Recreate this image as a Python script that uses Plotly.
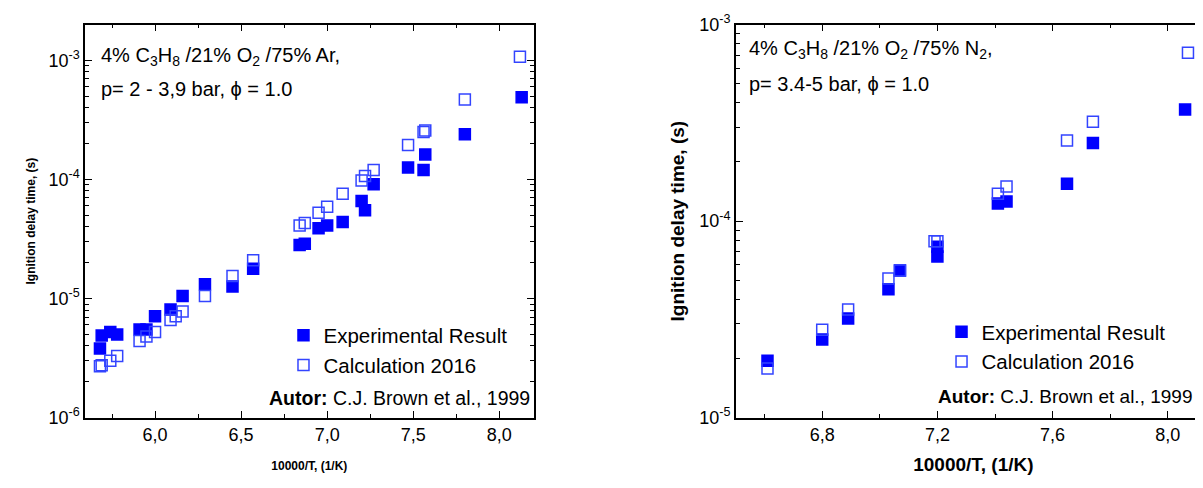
import plotly.graph_objects as go

# Left panel: Ar dilution
ar_x_exp = [5.68, 5.69, 5.74, 5.78, 5.91, 5.95, 6.00, 6.09, 6.16, 6.29, 6.45, 6.57, 6.84, 6.87, 6.95, 7.00, 7.09, 7.20, 7.22, 7.27, 7.47, 7.56, 7.57, 7.80, 8.13]
ar_y_exp = [3.8e-6, 4.9e-6, 5.25e-6, 5.0e-6, 5.5e-6, 5.5e-6, 7.1e-6, 8.1e-6, 1.05e-5, 1.32e-5, 1.26e-5, 1.78e-5, 2.82e-5, 2.88e-5, 3.9e-5, 4.1e-5, 4.4e-5, 6.6e-5, 5.5e-5, 9.1e-5, 1.26e-4, 1.2e-4, 1.62e-4, 2.4e-4, 4.9e-4]
ar_x_calc = [5.68, 5.69, 5.74, 5.78, 5.91, 5.95, 6.00, 6.09, 6.12, 6.16, 6.29, 6.45, 6.57, 6.84, 6.87, 6.95, 7.00, 7.09, 7.20, 7.22, 7.27, 7.47, 7.56, 7.57, 7.80, 8.12]
ar_y_calc = [2.7e-6, 2.75e-6, 3.0e-6, 3.3e-6, 4.4e-6, 4.8e-6, 5.25e-6, 6.6e-6, 7.1e-6, 7.8e-6, 1.05e-5, 1.55e-5, 2.1e-5, 4.1e-5, 4.3e-5, 5.25e-5, 5.9e-5, 7.6e-5, 9.8e-5, 1.07e-4, 1.2e-4, 1.95e-4, 2.5e-4, 2.57e-4, 4.7e-4, 1.07e-3]

# Right panel: N2 dilution
n2_x_exp = [6.61, 6.80, 6.89, 7.03, 7.07, 7.20, 7.20, 7.41, 7.44, 7.65, 7.74, 8.06]
n2_y_exp = [1.95e-5, 2.5e-5, 3.2e-5, 4.5e-5, 5.6e-5, 6.6e-5, 7.4e-5, 1.23e-4, 1.26e-4, 1.55e-4, 2.5e-4, 3.7e-4]
n2_x_calc = [6.61, 6.80, 6.89, 7.03, 7.07, 7.19, 7.20, 7.41, 7.44, 7.65, 7.74, 8.07]
n2_y_calc = [1.78e-5, 2.8e-5, 3.55e-5, 5.1e-5, 5.6e-5, 7.9e-5, 7.9e-5, 1.38e-4, 1.5e-4, 2.57e-4, 3.2e-4, 7.2e-4]

left_xticks = [6.0, 6.5, 7.0, 7.5, 8.0]
left_xlabels = ["6,0", "6,5", "7,0", "7,5", "8,0"]
right_xticks = [6.8, 7.2, 7.6, 8.0]
right_xlabels = ["6,8", "7,2", "7,6", "8,0"]
left_yticks = [1e-6, 1e-5, 1e-4, 1e-3]
left_ylabels = ["10<sup>-6</sup>", "10<sup>-5</sup>", "10<sup>-4</sup>", "10<sup>-3</sup>"]
right_yticks = [1e-5, 1e-4, 1e-3]
right_ylabels = ["10<sup>-5</sup>", "10<sup>-4</sup>", "10<sup>-3</sup>"]
minor_mult = [2, 3, 4, 5, 6, 7, 8, 9]
left_minor = [m * d for d in [1e-6, 1e-5, 1e-4, 1e-3] for m in minor_mult]
right_minor = [m * d for d in [1e-5, 1e-4] for m in minor_mult]

BLUE = "#0000ff"
FONT = "Liberation Sans, Arial, sans-serif"
fig = go.Figure()

def add(x, y, filled, name, xa, ya, leg):
    fig.add_trace(go.Scatter(
        x=x, y=y, mode="markers", name=name, xaxis=xa, yaxis=ya, legend=leg,
        marker=dict(symbol="square" if filled else "square-open", size=11,
                    color=BLUE if filled else "#3344ff",
                    line=dict(width=1.5, color=BLUE if filled else "#3344ff"))))

add(ar_x_exp, ar_y_exp, True, "Experimental Result", "x", "y", "legend")
add(ar_x_calc, ar_y_calc, False, "Calculation 2016", "x", "y", "legend")
add(n2_x_exp, n2_y_exp, True, "Experimental Result", "x2", "y2", "legend2")
add(n2_x_calc, n2_y_calc, False, "Calculation 2016", "x2", "y2", "legend2")

ax_common = dict(showline=True, linecolor="black", linewidth=1.5, mirror="ticks", automargin=False,
                 ticks="inside", ticklen=7, tickwidth=1.2, tickcolor="black",
                 showgrid=False, zeroline=False, tickfont=dict(size=18, family=FONT, color="black"))

fig.update_layout(
    width=1203, height=488, margin=dict(l=0, r=0, t=0, b=0),
    paper_bgcolor="white", plot_bgcolor="white", font=dict(family=FONT, color="black"),
    xaxis=dict(domain=[0.064, 0.437], range=[5.593, 8.2], tickvals=left_xticks, ticktext=left_xlabels,
               minor=dict(dtick=0.25, ticks="inside", ticklen=4, tickcolor="black"),
               title=dict(text="<b>10000/T, (1/K)</b>", font=dict(size=12), standoff=18), anchor="y", **ax_common),
    yaxis=dict(domain=[0.1605, 0.966], type="log", range=[-6, -2.7], tickvals=left_yticks, ticktext=left_ylabels,
               minor=dict(tickvals=left_minor, ticks="inside", ticklen=4, tickcolor="black", showgrid=False),
               title=dict(text="<b>Ignition delay time, (s)</b>", font=dict(size=12), standoff=10), anchor="x", **ax_common),
    xaxis2=dict(domain=[0.605, 1.0], range=[6.5, 8.15], tickvals=right_xticks, ticktext=right_xlabels,
                minor=dict(dtick=0.2, ticks="inside", ticklen=4, tickcolor="black"),
                title=dict(text="<b>10000/T, (1/K)</b>", font=dict(size=19), standoff=14), anchor="y2", **ax_common),
    yaxis2=dict(domain=[0.1605, 0.966], type="log", range=[-5, -3], tickvals=right_yticks, ticktext=right_ylabels,
                minor=dict(tickvals=right_minor, ticks="inside", ticklen=4, tickcolor="black", showgrid=False),
                title=dict(text="<b>Ignition delay time, (s)</b>", font=dict(size=19), standoff=10), anchor="x2", **ax_common),
    legend=dict(x=0.229, y=0.37, xanchor="left", yanchor="top", bgcolor="rgba(0,0,0,0)",
                font=dict(size=20.5), tracegroupgap=0, itemwidth=30),
    legend2=dict(x=0.776, y=0.377, xanchor="left", yanchor="top", bgcolor="rgba(0,0,0,0)",
                 font=dict(size=20.5), tracegroupgap=0, itemwidth=30),
)

anns = [
    dict(x=0.0755, y=0.9, text="4% C<sub>3</sub>H<sub>8</sub> /21% O<sub>2</sub> /75% Ar,"),
    dict(x=0.0755, y=0.835, text="p= 2 - 3,9 bar, \u03d5 = 1.0"),
    dict(x=0.6145, y=0.915, text="4% C<sub>3</sub>H<sub>8</sub> /21% O<sub>2</sub> /75% N<sub>2</sub>,"),
    dict(x=0.6145, y=0.845, text="p= 3.4-5 bar, \u03d5 = 1.0"),
]
for a in anns:
    fig.add_annotation(xref="paper", yref="paper", xanchor="left", yanchor="middle", showarrow=False,
                       font=dict(size=20), **a)
fig.add_annotation(xref="paper", yref="paper", x=0.4355, y=0.2, xanchor="right", yanchor="middle",
                   showarrow=False, font=dict(size=19.5), text="<b>Autor:</b> C.J. Brown et al., 1999")
fig.add_annotation(xref="paper", yref="paper", x=0.986, y=0.203, xanchor="right", yanchor="middle",
                   showarrow=False, font=dict(size=19), text="<b>Autor:</b> C.J. Brown et al., 1999")

fig.write_html("out.html")
